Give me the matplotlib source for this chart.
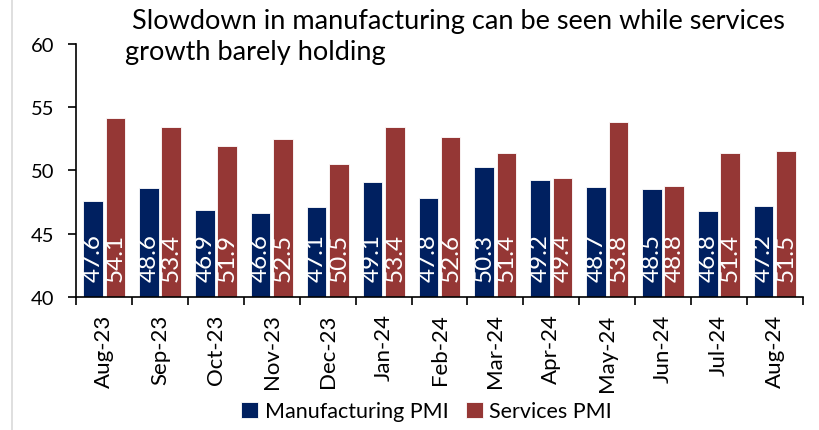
import numpy as np
import matplotlib.pyplot as plt
from matplotlib.lines import Line2D

plt.rcParams['font.family'] = ['Lato', 'DejaVu Sans']

months = ['Aug-23', 'Sep-23', 'Oct-23', 'Nov-23', 'Dec-23', 'Jan-24', 'Feb-24',
          'Mar-24', 'Apr-24', 'May-24', 'Jun-24', 'Jul-24', 'Aug-24']
mfg_pmi = [47.6, 48.6, 46.9, 46.6, 47.1, 49.1, 47.8, 50.3, 49.2, 48.7, 48.5, 46.8, 47.2]
svc_pmi = [54.1, 53.4, 51.9, 52.5, 50.5, 53.4, 52.6, 51.4, 49.4, 53.8, 48.8, 51.4, 51.5]

navy = '#002060'
brick = '#953735'

fig = plt.figure(figsize=(8.2, 4.31), dpi=100)
ax = fig.add_axes([0.093, 0.309, 0.886, 0.587])

x = np.arange(len(months))
w = 0.35
b1 = ax.bar(x - 0.2, np.array(mfg_pmi) - 40, w, bottom=40, color=navy,
            edgecolor='white', linewidth=0.6, label='Manufacturing PMI')
b2 = ax.bar(x + 0.2, np.array(svc_pmi) - 40, w, bottom=40, color=brick,
            edgecolor='white', linewidth=0.6, label='Services PMI')

# value labels written upward from the base of each bar
for xs, vals in [(x - 0.2, mfg_pmi), (x + 0.2, svc_pmi)]:
    for xi, v in zip(xs, vals):
        ax.text(xi, 41.25, f'{v:.1f}', rotation=90, ha='center', va='bottom',
                color='white', fontsize=17.5)

ax.set_ylim(40, 60)
ax.set_yticks([40, 45, 50, 55, 60])
ax.set_xlim(-0.5, len(months) - 0.5)
ax.set_xticks(x)
ax.set_xticklabels(months, rotation=90, fontsize=16)
ax.set_xticks(np.arange(len(months) + 1) - 0.5, minor=True)
ax.tick_params(axis='x', which='major', length=0, pad=12)
ax.tick_params(axis='x', which='minor', length=6, width=1.2, direction='out')
ax.tick_params(axis='y', labelsize=14.5, length=6, width=1.2, direction='out', pad=10)
for s in ['top', 'right']:
    ax.spines[s].set_visible(False)
for s in ['left', 'bottom']:
    ax.spines[s].set_linewidth(1.2)

fig.text(0.152, 0.978, ' Slowdown in manufacturing can be seen while services\ngrowth barely holding',
         ha='left', va='top', fontsize=19.5, linespacing=1.3)

fig.legend(handles=[b1, b2], loc='lower center', bbox_to_anchor=(0.52, -0.025), ncol=2,
           frameon=False, fontsize=15.5, handlelength=0.8, handleheight=0.8,
           handletextpad=0.3, columnspacing=0.8)

fig.add_artist(Line2D([12 / 820, 12 / 820], [0, 1], color='#d9d9d9', linewidth=1.2))

fig.savefig('out.png', dpi=100)
